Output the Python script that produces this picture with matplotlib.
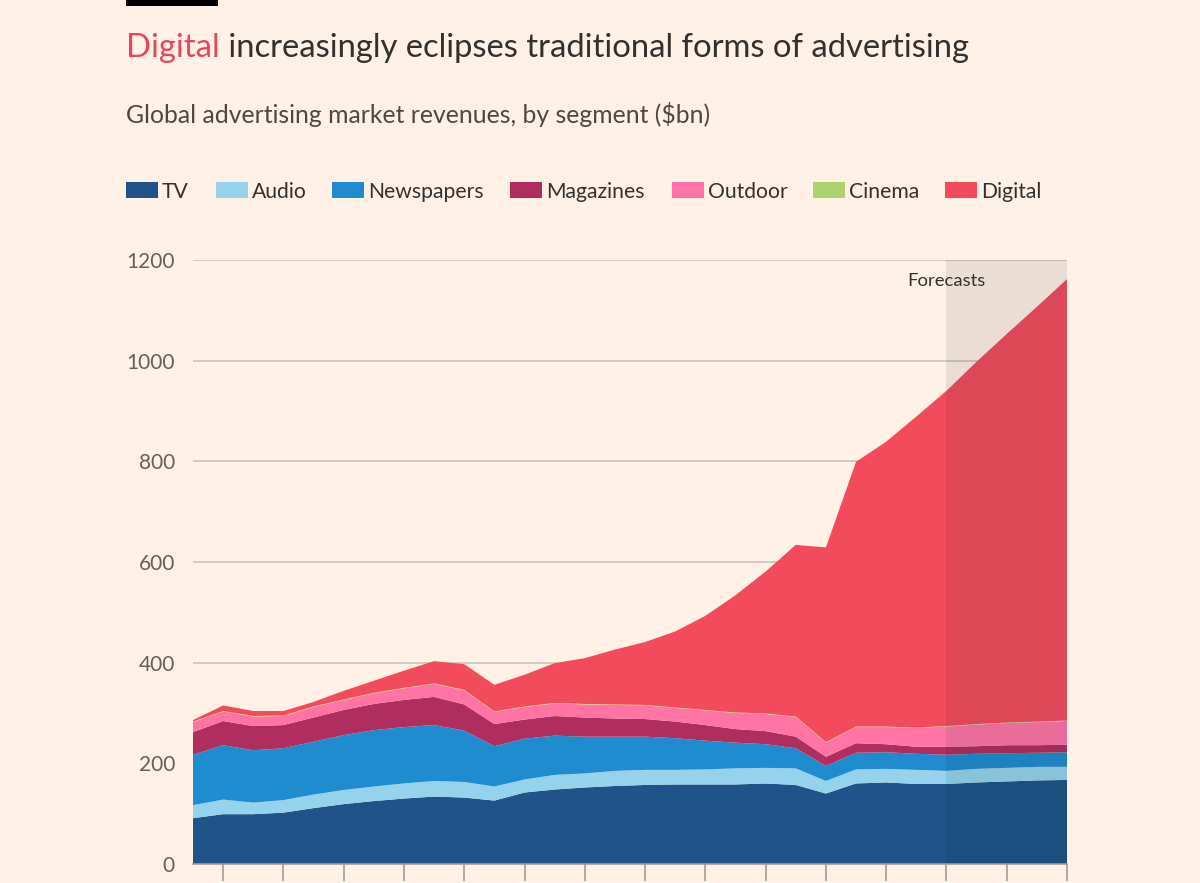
import matplotlib
matplotlib.use('Agg')
import matplotlib.pyplot as plt
from matplotlib.patches import Rectangle

plt.rcParams['font.family'] = ['Lato', 'DejaVu Sans']

# Données (milliards $)
years = list(range(1999, 2029))
tv = [91, 99, 99, 102, 111, 119, 125, 130, 134, 132, 126, 142, 148, 152, 155,
      157, 158, 158, 158, 160, 157, 140, 160, 162, 159, 159, 162, 164, 166, 167]
audio = [26, 29, 23, 25, 27, 28, 29, 30, 31, 31, 28, 26, 29, 28, 30,
         30, 29, 30, 32, 31, 33, 25, 28, 27, 28, 26, 27, 27, 27, 26]
newspapers = [100, 108, 104, 103, 105, 109, 112, 112, 111, 102, 80, 81, 78, 73, 68,
              66, 63, 57, 51, 47, 40, 30, 33, 33, 32, 32, 30, 29, 28, 29]
magazines = [45, 48, 48, 46, 48, 50, 52, 54, 56, 52, 44, 38, 39, 38, 36,
             35, 33, 31, 27, 26, 23, 18, 19, 16, 14, 16, 15, 16, 15, 15]
outdoor = [20, 19, 19, 18, 21, 20, 21, 23, 26, 28, 24, 25, 25, 26, 27,
           27, 27, 29, 32, 34, 39, 28, 32, 34, 37, 40, 43, 44, 46, 47]
cinema = [1, 1, 1, 1, 1, 1, 1, 1, 1, 1, 1, 1, 1, 1, 1,
          1, 1, 1, 1, 1, 1, 1, 1, 1, 1, 1, 1, 1, 1, 1]
digital = [3, 11, 10, 9, 9, 17, 24, 34, 44, 51, 53, 63, 79, 91, 109,
           125, 151, 187, 233, 282, 341, 387, 526, 566, 618, 666, 720, 772, 824, 877]

labels = ['TV', 'Audio', 'Newspapers', 'Magazines', 'Outdoor', 'Cinema', 'Digital']
colors = ['#1f5389', '#95d3ec', '#208cd0', '#b02e5e', '#ff74a4', '#acd36f', '#f24c5c']
forecast_start = 2024

bg = '#fff1e5'
grey = '#66605c'
dark = '#33302e'

fig = plt.figure(figsize=(12, 8.83), dpi=100)
fig.patch.set_facecolor(bg)

ax = fig.add_axes([193 / 1200, 1 - 864 / 883, (1067 - 193) / 1200, (864 - 260) / 883])
ax.set_facecolor('none')

ax.stackplot(years, tv, audio, newspapers, magazines, outdoor, cinema, digital,
             colors=colors, linewidth=0, zorder=2)

# zone des prévisions
ax.axvspan(forecast_start, years[-1], color='#0d1a26', alpha=0.085, lw=0, zorder=3)
ax.text(forecast_start, 1158, 'Forecasts', ha='center', va='center',
        fontsize=13.3, color=dark)

ax.set_xlim(years[0], years[-1])
ax.set_ylim(0, 1200)
ax.set_yticks(range(0, 1201, 200))
ax.set_xticks(range(2000, 2029, 2))
ax.set_xticklabels([])
ax.yaxis.grid(True, color='#cdc3b9', lw=1.2)
ax.set_axisbelow(True)
for s in ['top', 'right', 'left']:
    ax.spines[s].set_visible(False)
ax.spines['bottom'].set_color('#a39d97')
ax.spines['bottom'].set_linewidth(1.2)
ax.spines['bottom'].set_zorder(4)
ax.tick_params(axis='x', length=12, width=1.2, color='#a39d97')
ax.tick_params(axis='y', length=0, pad=13, labelsize=15, labelcolor=grey)

# barre noire
fig.add_artist(Rectangle((126 / 1200, 1 - 6 / 883), 92 / 1200, 6 / 883,
                         color='black', transform=fig.transFigure, lw=0))

# titre
t1 = fig.text(126 / 1200, 1 - 57 / 883, 'Digital', fontsize=23.6, color='#e8475a',
              ha='left', va='baseline')
fig.add_artist(matplotlib.text.Annotation(' increasingly eclipses traditional forms of advertising',
                                          xy=(1, 0), xycoords=t1, fontsize=23.6, color=dark,
                                          ha='left', va='bottom'))

fig.text(126 / 1200, 1 - 123 / 883, 'Global advertising market revenues, by segment ($bn)',
         fontsize=17.8, color='#4d4845', ha='left', va='baseline')

# légende
leg_x = [126, 216, 332, 510, 672, 813, 945]
for x, lab, c in zip(leg_x, labels, colors):
    fig.add_artist(Rectangle((x / 1200, 1 - 198 / 883), 32 / 1200, 16 / 883,
                             color=c, transform=fig.transFigure, lw=0))
    fig.text((x + 36) / 1200, 1 - 198 / 883, lab, fontsize=15.2, color=dark,
             ha='left', va='baseline')

fig.savefig('out.png', dpi=100, facecolor=bg)
